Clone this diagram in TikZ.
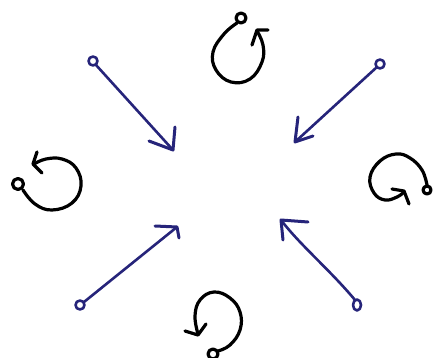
\documentclass[tikz,border=0pt]{standalone}
\usetikzlibrary{calc}
\begin{document}
\begin{tikzpicture}[x=1pt,y=-1pt,
  loopline/.style={line width=3.2pt,black,line cap=round,line join=round},
  navyline/.style={line width=2.6pt,color=navyink,line cap=round,line join=round},
  navyhead/.style={line width=3pt,color=navyink,line cap=round,line join=round}]
\definecolor{navyink}{RGB}{38,36,122}
\useasboundingbox (0,0) rectangle (433,358);
\fill[white] (0,0) rectangle (433,358);

% ---- top curl ----
\draw[loopline] (241,18) circle (5);
\draw[loopline] plot[smooth,tension=0.7] coordinates {(237,23) (224,34) (213,52) (216,70) (231,82) (250,79) (262,62) (263,45) (257,31)};
\draw[loopline] (268,30) -- (257,30) -- (252,45);

% ---- left curl ----
\draw[loopline] (18,184) circle (5.5);
\draw[loopline] plot[smooth,tension=0.7] coordinates {(23,190) (35,204) (52,210) (72,203) (81,186) (76,168) (62,159) (46,159) (34,164)};
\draw[loopline] (37,152) -- (33,164) -- (42,173);

% ---- right curl ----
\draw[loopline] (427,190) circle (4);
\draw[loopline] plot[smooth,tension=0.7] coordinates {(427,185) (422,170) (410,158) (396,154) (380,161) (370,177) (374,193) (385,200) (397,197) (404,192)};
\draw[loopline] (392,189) -- (404,191) -- (409,204);

% ---- bottom curl ----
\draw[loopline] (213,354) circle (5);
\draw[loopline] plot[smooth,tension=0.7] coordinates {(218,351) (230,345) (240,330) (240,312) (230,298) (214,292) (200,300) (195,316) (198,334)};
\draw[loopline] (185,331) -- (198,335) -- (206,324);

% ---- navy arrows ----
\coordinate (s1) at (93,61);  \coordinate (t1) at (173,150);
\coordinate (s2) at (380,64); \coordinate (t2) at (295,142);
\coordinate (s3) at (80,305); \coordinate (t3) at (177,227);
\coordinate (s4) at (357,305);\coordinate (t4) at (281,220);

\draw[navyline] (s1) circle (4.5);
\draw[navyline] ($(s1)+(3,4)$) -- (t1);
\draw[navyhead] (175,127) -- (t1) -- (149,141);

\draw[navyline] (s2) circle (4.5);
\draw[navyline] ($(s2)+(-3,3)$) -- (t2);
\draw[navyhead] (298,117) -- (t2) -- (313,136);

\draw[navyline] (s3) circle (4.5);
\draw[navyline] ($(s3)+(4,-3)$) -- (t3);
\draw[navyhead] (155,226) -- (t3) -- (179,238);

\draw[navyline] (s4) ellipse (4 and 5.5);
\draw[navyline] ($(s4)+(-2,-5)$) .. controls (330,270) and (300,245) .. (t4);
\draw[navyhead] (308,222) -- (t4) -- (283,240);
\end{tikzpicture}
\end{document}
